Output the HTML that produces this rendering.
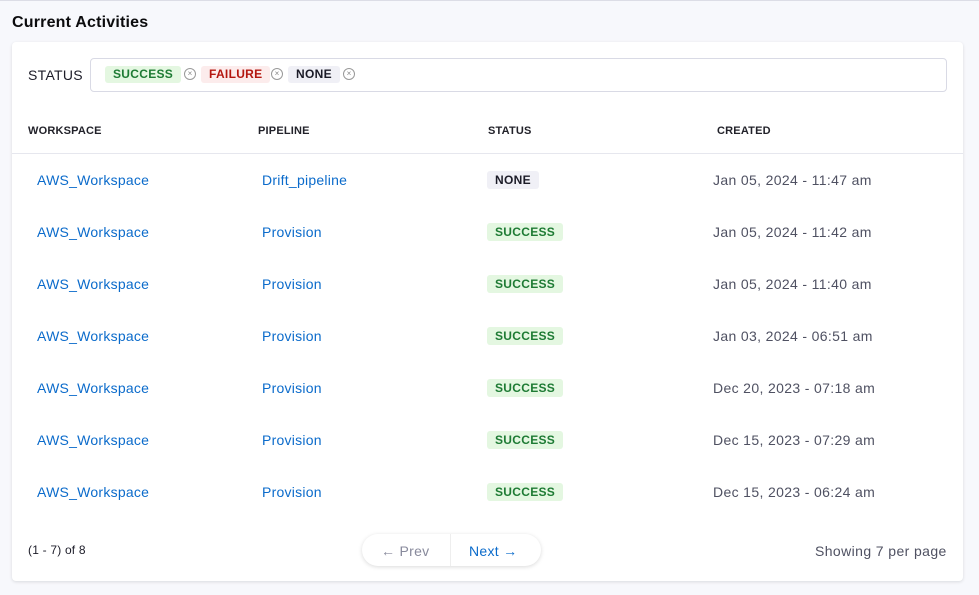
<!DOCTYPE html><html><head><style>
body{margin:0;width:979px;height:595px;background:#f7f8fc;font-family:"Liberation Sans",sans-serif;position:relative;overflow:hidden}
.a{position:absolute;white-space:nowrap}
.top{position:absolute;left:0;top:0;width:979px;height:1px;background:#dcdde6}
.card{position:absolute;left:12px;top:42px;width:951px;height:539px;background:#fff;border-radius:4px;box-shadow:0 1px 3px rgba(0,0,0,.12)}
.bx{position:absolute;left:90px;top:58px;width:855px;height:32px;border:1px solid #d9dae5;border-radius:4px}
.tag{position:absolute;top:66px;height:17px;line-height:17px;font-size:12px;font-weight:bold;padding:0 8px;border-radius:3px;letter-spacing:.3px}
.x{position:absolute;top:68px;width:10px;height:10px;border:1px solid #999;border-radius:50%;font-size:8px;line-height:10px;text-align:center;color:#888}
.h{font-size:11px;font-weight:bold;color:#22222a;top:125px;letter-spacing:.2px}
.l{color:#0b6bcb;font-size:14px;letter-spacing:.25px}
.d{color:#4f5162;font-size:14px;letter-spacing:.35px}
.s{font-size:12px;font-weight:bold;height:18px;line-height:18px;padding:0 8px;border-radius:3px;letter-spacing:.3px}
</style></head><body>
<div class="top"></div>
<div class="a" style="left:12px;top:14px;font-size:16px;font-weight:bold;color:#0b0b0d;letter-spacing:.2px">Current Activities</div>
<div class="card"></div>
<div class="a" style="left:28px;top:67px;font-size:14px;color:#1c1c28;letter-spacing:.3px">STATUS</div>
<div class="bx"></div>
<div class="tag" style="left:105px;background:#e4f7e1;color:#1e7b34">SUCCESS</div>
<div class="x" style="left:184px">×</div>
<div class="tag" style="left:201px;background:#fcecec;color:#b41710">FAILURE</div>
<div class="x" style="left:271px">×</div>
<div class="tag" style="left:288px;background:#f0f0f6;color:#1c1c28">NONE</div>
<div class="x" style="left:343px">×</div>
<div class="a h" style="left:28px">WORKSPACE</div>
<div class="a h" style="left:258px">PIPELINE</div>
<div class="a h" style="left:488px">STATUS</div>
<div class="a h" style="left:717px">CREATED</div>
<div class="a" style="left:12px;top:153px;width:951px;height:1px;background:#e6e7ee"></div>
<div id="rows"></div>
<div class="a" style="left:28px;top:543px;font-size:12px;color:#1c1c28;letter-spacing:.2px">(1 - 7) of 8</div>
<div class="a" style="left:362px;top:534px;width:179px;height:32px;border-radius:16px;background:#fff;box-shadow:0 1px 4px rgba(0,0,0,.15)"></div>
<div class="a" style="left:450px;top:534px;width:1px;height:32px;background:#eee"></div>
<div class="a" style="left:381px;top:543px;font-size:14px;color:#888a9c;letter-spacing:.3px">← Prev</div>
<div class="a" style="left:469px;top:543px;font-size:14px;color:#0b6bcb;letter-spacing:.3px">Next →</div>
<div class="a" style="left:815px;top:543px;font-size:14px;color:#4f5162;letter-spacing:.4px">Showing 7 per page</div>
<script>
var d=["Jan 05, 2024 - 11:47 am","Jan 05, 2024 - 11:42 am","Jan 05, 2024 - 11:40 am","Jan 03, 2024 - 06:51 am","Dec 20, 2023 - 07:18 am","Dec 15, 2023 - 07:29 am","Dec 15, 2023 - 06:24 am"],h="";
for(var i=0;i<7;i++){var y=181+52*i;
h+='<div class="a l" style="left:37px;top:'+(y-9)+'px">AWS_Workspace</div>';
h+='<div class="a l" style="left:262px;top:'+(y-9)+'px">'+(i?'Provision':'Drift_pipeline')+'</div>';
h+='<div class="a s" style="left:487px;top:'+(y-10)+'px;'+(i?'background:#e4f7e1;color:#1e7b34':'background:#f0f0f6;color:#1c1c28')+'">'+(i?'SUCCESS':'NONE')+'</div>';
h+='<div class="a d" style="left:713px;top:'+(y-9)+'px">'+d[i]+'</div>';}
document.getElementById("rows").innerHTML=h;
</script>
</body></html>
